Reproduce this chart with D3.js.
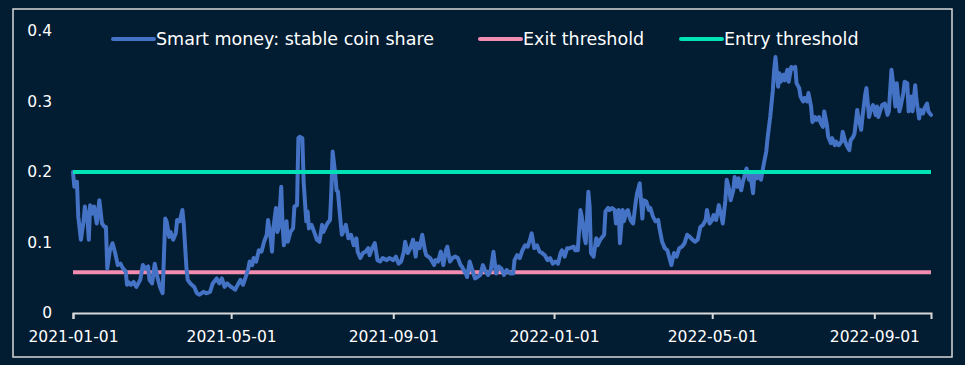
<!DOCTYPE html>
<html>
<head>
<meta charset="utf-8">
<script src="https://cdn.jsdelivr.net/npm/d3@7"></script>
<style>
  html, body { margin: 0; padding: 0; background: #021c31; }
  svg { display: block; }
  text { font-family: "DejaVu Sans", sans-serif; fill: #ffffff; }
</style>
</head>
<body>
<svg id="chart"></svg>
<script>
var width = 965, height = 365;
var margin = {top: 31, right: 34, bottom: 52, left: 73};

// series
var dates = [
  "2021-01-01","2021-01-02","2021-01-04","2021-01-05","2021-01-07","2021-01-09","2021-01-10","2021-01-12","2021-01-13","2021-01-14",
  "2021-01-16","2021-01-17","2021-01-19","2021-01-21","2021-01-23","2021-01-25","2021-01-26","2021-01-27","2021-01-29","2021-01-31",
  "2021-02-02","2021-02-04","2021-02-06","2021-02-08","2021-02-10","2021-02-11","2021-02-12","2021-02-14","2021-02-16","2021-02-18",
  "2021-02-21","2021-02-23","2021-02-25","2021-02-27","2021-02-28","2021-03-02","2021-03-04","2021-03-06","2021-03-08","2021-03-10",
  "2021-03-12","2021-03-13","2021-03-15","2021-03-16","2021-03-18","2021-03-20","2021-03-21","2021-03-23","2021-03-25","2021-03-26",
  "2021-03-28","2021-03-29","2021-03-31","2021-04-03","2021-04-05","2021-04-07","2021-04-10","2021-04-12","2021-04-15","2021-04-17",
  "2021-04-20","2021-04-22","2021-04-24","2021-04-26","2021-04-28","2021-05-01","2021-05-04","2021-05-06","2021-05-08","2021-05-10",
  "2021-05-12","2021-05-14","2021-05-15","2021-05-17","2021-05-18","2021-05-20","2021-05-22","2021-05-24","2021-05-26","2021-05-28",
  "2021-05-29","2021-05-31","2021-06-01","2021-06-02","2021-06-04","2021-06-05","2021-06-06","2021-06-08","2021-06-09","2021-06-10",
  "2021-06-12","2021-06-13","2021-06-15","2021-06-17","2021-06-18","2021-06-20","2021-06-21","2021-06-22","2021-06-24","2021-06-25",
  "2021-06-27","2021-06-28","2021-06-29","2021-07-01","2021-07-03","2021-07-05","2021-07-07","2021-07-09","2021-07-10","2021-07-13",
  "2021-07-15","2021-07-16","2021-07-17","2021-07-19","2021-07-20","2021-07-21","2021-07-23","2021-07-24","2021-07-26","2021-07-27",
  "2021-07-29","2021-07-31","2021-08-02","2021-08-04","2021-08-05","2021-08-07","2021-08-09","2021-08-11","2021-08-13","2021-08-14",
  "2021-08-16","2021-08-18","2021-08-20","2021-08-22","2021-08-24","2021-08-27","2021-08-29","2021-09-01","2021-09-03","2021-09-05",
  "2021-09-07","2021-09-09","2021-09-10","2021-09-12","2021-09-14","2021-09-16","2021-09-18","2021-09-19","2021-09-21","2021-09-23",
  "2021-09-25","2021-09-26","2021-09-29","2021-10-02","2021-10-03","2021-10-05","2021-10-07","2021-10-09","2021-10-11","2021-10-12",
  "2021-10-14","2021-10-16","2021-10-18","2021-10-20","2021-10-22","2021-10-23","2021-10-26","2021-10-27","2021-10-29","2021-10-31",
  "2021-11-02","2021-11-04","2021-11-06","2021-11-08","2021-11-10","2021-11-12","2021-11-14","2021-11-16","2021-11-18","2021-11-20",
  "2021-11-22","2021-11-24","2021-11-26","2021-11-29","2021-12-01","2021-12-02","2021-12-04","2021-12-06","2021-12-08","2021-12-10",
  "2021-12-12","2021-12-14","2021-12-15","2021-12-17","2021-12-19","2021-12-21","2021-12-23","2021-12-25","2021-12-27","2021-12-29",
  "2021-12-31","2022-01-02","2022-01-04","2022-01-06","2022-01-07","2022-01-09","2022-01-11","2022-01-13","2022-01-16","2022-01-17",
  "2022-01-19","2022-01-21","2022-01-22","2022-01-24","2022-01-25","2022-01-27","2022-01-28","2022-01-29","2022-01-31","2022-02-02",
  "2022-02-03","2022-02-05","2022-02-08","2022-02-09","2022-02-11","2022-02-12","2022-02-14","2022-02-16","2022-02-17","2022-02-19",
  "2022-02-20","2022-02-22","2022-02-23","2022-02-25","2022-02-26","2022-02-28","2022-03-02","2022-03-04","2022-03-05","2022-03-07",
  "2022-03-09","2022-03-10","2022-03-12","2022-03-14","2022-03-15","2022-03-17","2022-03-19","2022-03-21","2022-03-22","2022-03-24",
  "2022-03-26","2022-03-28","2022-03-29","2022-03-31","2022-04-02","2022-04-04","2022-04-06","2022-04-08","2022-04-10","2022-04-12",
  "2022-04-14","2022-04-16","2022-04-18","2022-04-20","2022-04-22","2022-04-24","2022-04-26","2022-04-27","2022-04-29","2022-05-01",
  "2022-05-02","2022-05-04","2022-05-06","2022-05-08","2022-05-09","2022-05-11","2022-05-12","2022-05-14","2022-05-15","2022-05-17",
  "2022-05-18","2022-05-20","2022-05-21","2022-05-23","2022-05-24","2022-05-26","2022-05-27","2022-05-29","2022-05-30","2022-06-01",
  "2022-06-02","2022-06-04","2022-06-05","2022-06-07","2022-06-09","2022-06-11","2022-06-12","2022-06-14","2022-06-16","2022-06-17",
  "2022-06-18","2022-06-20","2022-06-21","2022-06-22","2022-06-24","2022-06-25","2022-06-27","2022-06-28","2022-06-30","2022-07-01",
  "2022-07-03","2022-07-04","2022-07-06","2022-07-07","2022-07-09","2022-07-10","2022-07-12","2022-07-13","2022-07-15","2022-07-16",
  "2022-07-18","2022-07-19","2022-07-21","2022-07-22","2022-07-24","2022-07-25","2022-07-27","2022-07-28","2022-07-30","2022-07-31",
  "2022-08-02","2022-08-03","2022-08-05","2022-08-07","2022-08-08","2022-08-10","2022-08-11","2022-08-13","2022-08-14","2022-08-16",
  "2022-08-17","2022-08-19","2022-08-20","2022-08-22","2022-08-23","2022-08-25","2022-08-26","2022-08-28","2022-08-29","2022-08-31",
  "2022-09-02","2022-09-03","2022-09-04","2022-09-06","2022-09-07","2022-09-09","2022-09-11","2022-09-12","2022-09-14","2022-09-15",
  "2022-09-17","2022-09-18","2022-09-20","2022-09-21","2022-09-23","2022-09-24","2022-09-26","2022-09-27","2022-09-29","2022-09-30",
  "2022-10-02","2022-10-03","2022-10-05","2022-10-06","2022-10-08","2022-10-09","2022-10-11","2022-10-12","2022-10-14"
];
var stableShare = [
  0.200,0.179,0.186,0.137,0.104,0.130,0.151,0.132,0.104,0.153,
  0.141,0.151,0.127,0.160,0.127,0.122,0.122,0.063,0.089,0.099,
  0.085,0.068,0.070,0.063,0.059,0.040,0.044,0.040,0.044,0.037,
  0.047,0.068,0.063,0.066,0.047,0.042,0.070,0.051,0.037,0.028,
  0.134,0.130,0.108,0.115,0.104,0.113,0.132,0.130,0.146,0.127,
  0.066,0.047,0.042,0.037,0.028,0.026,0.030,0.028,0.030,0.042,
  0.049,0.042,0.049,0.037,0.042,0.037,0.033,0.040,0.047,0.040,
  0.051,0.063,0.073,0.068,0.078,0.073,0.089,0.087,0.101,0.111,
  0.132,0.106,0.087,0.120,0.149,0.115,0.120,0.179,0.125,0.096,
  0.130,0.101,0.115,0.120,0.151,0.153,0.248,0.250,0.248,0.186,
  0.130,0.144,0.120,0.125,0.115,0.104,0.101,0.125,0.115,0.127,
  0.132,0.172,0.229,0.196,0.174,0.172,0.130,0.111,0.120,0.125,
  0.106,0.111,0.096,0.106,0.087,0.078,0.085,0.087,0.092,0.082,
  0.092,0.099,0.075,0.073,0.078,0.075,0.078,0.075,0.080,0.070,
  0.073,0.087,0.101,0.085,0.092,0.104,0.080,0.099,0.092,0.111,
  0.089,0.082,0.078,0.068,0.075,0.073,0.087,0.068,0.089,0.094,
  0.073,0.078,0.080,0.078,0.068,0.066,0.056,0.051,0.073,0.061,
  0.049,0.051,0.054,0.068,0.059,0.054,0.061,0.087,0.056,0.066,
  0.063,0.054,0.061,0.056,0.056,0.075,0.082,0.078,0.089,0.096,
  0.094,0.106,0.113,0.092,0.096,0.087,0.085,0.082,0.075,0.078,
  0.070,0.073,0.070,0.085,0.089,0.080,0.092,0.092,0.094,0.089,
  0.089,0.146,0.137,0.108,0.099,0.172,0.151,0.085,0.080,0.106,
  0.096,0.104,0.111,0.144,0.149,0.146,0.149,0.146,0.127,0.146,
  0.099,0.146,0.130,0.144,0.146,0.132,0.127,0.158,0.170,0.184,
  0.134,0.160,0.158,0.146,0.149,0.137,0.130,0.132,0.120,0.101,
  0.092,0.089,0.082,0.068,0.085,0.080,0.092,0.094,0.099,0.111,
  0.108,0.104,0.101,0.104,0.122,0.125,0.132,0.146,0.127,0.132,
  0.139,0.132,0.153,0.137,0.127,0.160,0.189,0.174,0.160,0.174,
  0.193,0.179,0.191,0.174,0.184,0.198,0.205,0.189,0.196,0.170,
  0.198,0.191,0.198,0.189,0.210,0.229,0.248,0.278,0.316,0.345,
  0.363,0.321,0.340,0.328,0.338,0.330,0.345,0.328,0.349,0.347,
  0.349,0.326,0.319,0.307,0.300,0.305,0.300,0.312,0.293,0.271,
  0.278,0.274,0.278,0.271,0.264,0.286,0.267,0.250,0.241,0.248,
  0.238,0.243,0.238,0.243,0.257,0.243,0.238,0.231,0.245,0.250,
  0.255,0.288,0.276,0.260,0.278,0.309,0.319,0.278,0.286,0.295,
  0.281,0.293,0.278,0.290,0.295,0.297,0.281,0.286,0.345,0.330,
  0.293,0.326,0.286,0.293,0.312,0.328,0.326,0.286,0.307,0.286,
  0.323,0.302,0.276,0.288,0.283,0.290,0.297,0.286,0.281
];
var exitThreshold = 0.0577;
var entryThreshold = 0.2;

var xTicks = ["2021-01-01","2021-05-01","2021-09-01","2022-01-01","2022-05-01","2022-09-01"];
var yTicks = [0, 0.1, 0.2, 0.3, 0.4];
var seriesNames = ["Smart money: stable coin share", "Exit threshold", "Entry threshold"];
var seriesColors = ["#4472c4", "#f28cb1", "#00e3b4"];

var parse = d3.timeParse("%Y-%m-%d");
var fmt = d3.timeFormat("%Y-%m-%d");
var data = dates.map(function (d, i) { return {date: parse(d), value: stableShare[i]}; });

var svg = d3.select("#chart").attr("width", width).attr("height", height);

svg.append("rect")
    .attr("x", 13).attr("y", 9)
    .attr("width", 939).attr("height", 348)
    .attr("fill", "none")
    .attr("stroke", "#d9d9d9")
    .attr("stroke-width", 1.5);

var x = d3.scaleTime()
    .domain(d3.extent(data, function (d) { return d.date; }))
    .range([margin.left, width - margin.right]);

var y = d3.scaleLinear()
    .domain([0, 0.4])
    .range([height - margin.bottom, margin.top]);

// x axis
var xAxis = svg.append("g")
    .attr("transform", "translate(0," + y(0) + ")")
    .call(d3.axisBottom(x)
        .tickValues(xTicks.map(parse))
        .tickFormat(fmt)
        .tickSizeOuter(0)
        .tickSize(6)
        .tickPadding(12));
xAxis.select(".domain").attr("stroke", "#d9d9d9").attr("stroke-width", 2);
xAxis.selectAll(".tick line").attr("stroke", "#d9d9d9").attr("stroke-width", 2);
xAxis.selectAll(".tick text")
    .attr("fill", "#ffffff")
    .style("font-size", "15.5px")
    .style("font-family", "'DejaVu Sans', sans-serif");

// y axis: labels only
var yAxis = svg.append("g")
    .attr("transform", "translate(" + (margin.left - 21) + ",0)")
    .call(d3.axisLeft(y)
        .tickValues(yTicks)
        .tickFormat(function (d) { return d === 0 ? "0" : d.toFixed(1); })
        .tickSize(0)
        .tickPadding(0));
yAxis.select(".domain").remove();
yAxis.selectAll(".tick text")
    .attr("fill", "#ffffff")
    .style("font-size", "15.5px")
    .style("font-family", "'DejaVu Sans', sans-serif");

// threshold lines
var ends = x.domain();
svg.append("line")
    .attr("x1", x(ends[0])).attr("x2", x(ends[1]))
    .attr("y1", y(exitThreshold)).attr("y2", y(exitThreshold))
    .attr("stroke", seriesColors[1])
    .attr("stroke-width", 4);

var line = d3.line()
    .x(function (d) { return x(d.date); })
    .y(function (d) { return y(d.value); });

svg.append("path")
    .datum(data)
    .attr("d", line)
    .attr("fill", "none")
    .attr("stroke", seriesColors[0])
    .attr("stroke-width", 4)
    .attr("stroke-linejoin", "round")
    .attr("stroke-linecap", "round");

svg.append("line")
    .attr("x1", x(ends[0])).attr("x2", x(ends[1]))
    .attr("y1", y(entryThreshold)).attr("y2", y(entryThreshold))
    .attr("stroke", seriesColors[2])
    .attr("stroke-width", 4);

// legend
var legendX = [113, 480, 681];
var legend = svg.append("g").attr("transform", "translate(0,39)");
var item = legend.selectAll("g")
    .data(seriesNames)
    .enter().append("g")
    .attr("transform", function (d, i) { return "translate(" + legendX[i] + ",0)"; });
item.append("line")
    .attr("x1", 0).attr("x2", 41)
    .attr("stroke", function (d, i) { return seriesColors[i]; })
    .attr("stroke-width", 4)
    .attr("stroke-linecap", "round");
item.append("text")
    .attr("x", 43)
    .attr("dy", "0.35em")
    .style("font-size", "17.5px")
    .text(function (d) { return d; });
</script>
</body>
</html>
